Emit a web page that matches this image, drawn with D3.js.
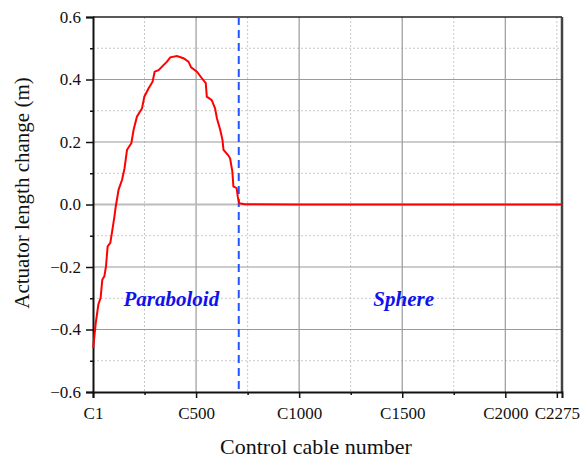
<!DOCTYPE html>
<html>
<head>
<meta charset="utf-8">
<script src="https://cdn.jsdelivr.net/npm/d3@7"></script>
<style>
  body { margin: 0; background: #fff; }
  svg text { font-family: "Liberation Serif", "Times New Roman", Times, "DejaVu Serif", serif !important; }
</style>
</head>
<body>
<div id="chart"></div>
<script>
// cable index vs actuator length change (m)
const cableIdx = [1, 13, 26, 37, 45, 55, 63, 71, 84, 94, 104, 110, 124, 141, 153, 165, 186, 197, 213, 238,
    249, 270, 289, 299, 318, 342, 359, 375, 407, 439, 463, 476, 504, 528, 547, 552, 576, 592, 601, 617,
    628, 633, 654, 665, 676, 681, 697, 702, 709, 738, 1000, 1500, 2000, 2275];
const lengthChange = [-0.459, -0.381, -0.320, -0.299, -0.241, -0.230, -0.198, -0.134, -0.123, -0.081, -0.038, -0.008, 0.047, 0.079, 0.116, 0.175, 0.196, 0.239, 0.281, 0.308,
    0.345, 0.372, 0.393, 0.425, 0.430, 0.446, 0.457, 0.471, 0.475, 0.468, 0.457, 0.439, 0.425, 0.404, 0.388, 0.345, 0.334, 0.308, 0.276, 0.239,
    0.207, 0.175, 0.159, 0.148, 0.105, 0.058, 0.052, 0.026, 0.004, 0.001, 0.0, 0.0, 0.0, 0.0];

const xMajor = [0, 500, 1000, 1500, 2000, 2250];
const xLabels = ["C1", "C500", "C1000", "C1500", "C2000", "C2275"];
const xMinor = [250, 750, 1250, 1750, 2250];
const yMajor = [-0.6, -0.4, -0.2, 0.0, 0.2, 0.4, 0.6];
const yMinor = [-0.5, -0.3, -0.1, 0.1, 0.3, 0.5];

const boundaryCable = 707;
const regions = [
    {name: "Paraboloid", cable: 380, value: -0.325},
    {name: "Sphere", cable: 1507, value: -0.325}
];

const W = 588, H = 459;
const margin = {top: 17, right: 26, bottom: 67, left: 93};
const width = W - margin.left - margin.right,
    height = H - margin.top - margin.bottom;

const svg = d3.select("#chart").append("svg")
    .attr("width", W).attr("height", H)
    .append("g")
    .attr("transform", `translate(${margin.left},${margin.top})`);

const x = d3.scaleLinear().domain([0, 2275]).range([0, width]);
const y = d3.scaleLinear().domain([-0.6, 0.6]).range([height, 0]);

// grid
svg.append("g").selectAll("line").data(xMinor).enter().append("line")
    .attr("x1", d => x(d)).attr("x2", d => x(d)).attr("y1", 0).attr("y2", height)
    .attr("stroke", "#c8c8c8").attr("stroke-dasharray", "2,2");
svg.append("g").selectAll("line").data(yMinor).enter().append("line")
    .attr("x1", 0).attr("x2", width).attr("y1", d => y(d)).attr("y2", d => y(d))
    .attr("stroke", "#c8c8c8").attr("stroke-dasharray", "2,2");
svg.append("g").selectAll("line").data(xMajor.slice(1, 5)).enter().append("line")
    .attr("x1", d => x(d)).attr("x2", d => x(d)).attr("y1", 0).attr("y2", height)
    .attr("stroke", "#9a9a9a").attr("stroke-width", 1.2);
svg.append("g").selectAll("line").data(yMajor.slice(1, 6)).enter().append("line")
    .attr("x1", 0).attr("x2", width).attr("y1", d => y(d)).attr("y2", d => y(d))
    .attr("stroke", d => d === 0 ? "#bbbbbb" : "#9a9a9a")
    .attr("stroke-width", d => d === 0 ? 2 : 1.2);

// frame
svg.append("line").attr("x1", 0).attr("x2", width).attr("y1", 0).attr("y2", 0)
    .attr("stroke", "#222").attr("stroke-width", 1.5);
svg.append("line").attr("x1", width).attr("x2", width).attr("y1", 0).attr("y2", height)
    .attr("stroke", "#444").attr("stroke-width", 2.5);

// axes
svg.append("g").attr("transform", `translate(0,${height})`)
    .call(d3.axisBottom(x).tickValues(xMajor).tickSize(6).tickPadding(9)
        .tickFormat((d, i) => xLabels[i]));
svg.append("g").attr("transform", `translate(0,${height})`)
    .call(d3.axisBottom(x).tickValues(xMinor.slice(0, 4)).tickSize(3).tickFormat(""))
    .select(".domain").remove();
svg.append("g")
    .call(d3.axisLeft(y).tickValues(yMajor).tickSize(7).tickPadding(5).tickFormat(d3.format(".1f")));
svg.append("g")
    .call(d3.axisLeft(y).tickValues(yMinor).tickSize(3).tickFormat(""))
    .select(".domain").remove();

svg.selectAll(".domain").attr("stroke", "#111").attr("stroke-width", 2);
svg.selectAll(".tick line").attr("stroke", "#111").attr("stroke-width", 1.5);
svg.selectAll(".tick text").attr("fill", "#111").style("font-size", "17px");

// boundary between the two surfaces
svg.append("line")
    .attr("x1", x(boundaryCable)).attr("x2", x(boundaryCable))
    .attr("y1", 0).attr("y2", height)
    .attr("stroke", "#2255ff").attr("stroke-width", 2).attr("stroke-dasharray", "8,5");

// red curve
const line = d3.line()
    .x((d, i) => x(cableIdx[i]))
    .y(d => y(d));
svg.append("path")
    .datum(lengthChange)
    .attr("fill", "none")
    .attr("stroke", "#ff0000")
    .attr("stroke-width", 2)
    .attr("d", line);

// region labels
svg.selectAll(".region").data(regions).enter().append("text")
    .attr("x", d => x(d.cable)).attr("y", d => y(d.value))
    .attr("text-anchor", "middle")
    .style("font-size", "21px").style("font-weight", "bold").style("font-style", "italic")
    .attr("fill", "#1111ee")
    .text(d => d.name);

// titles
svg.append("text")
    .attr("x", 316 - margin.left).attr("y", 454 - margin.top)
    .attr("text-anchor", "middle")
    .style("font-size", "22px").attr("fill", "#111")
    .text("Control cable number");

svg.append("text")
    .attr("transform", `translate(${29 - margin.left},${193 - margin.top}) rotate(-90)`)
    .attr("text-anchor", "middle")
    .style("font-size", "21px").attr("fill", "#111")
    .text("Actuator length change (m)");
</script>
</body>
</html>
